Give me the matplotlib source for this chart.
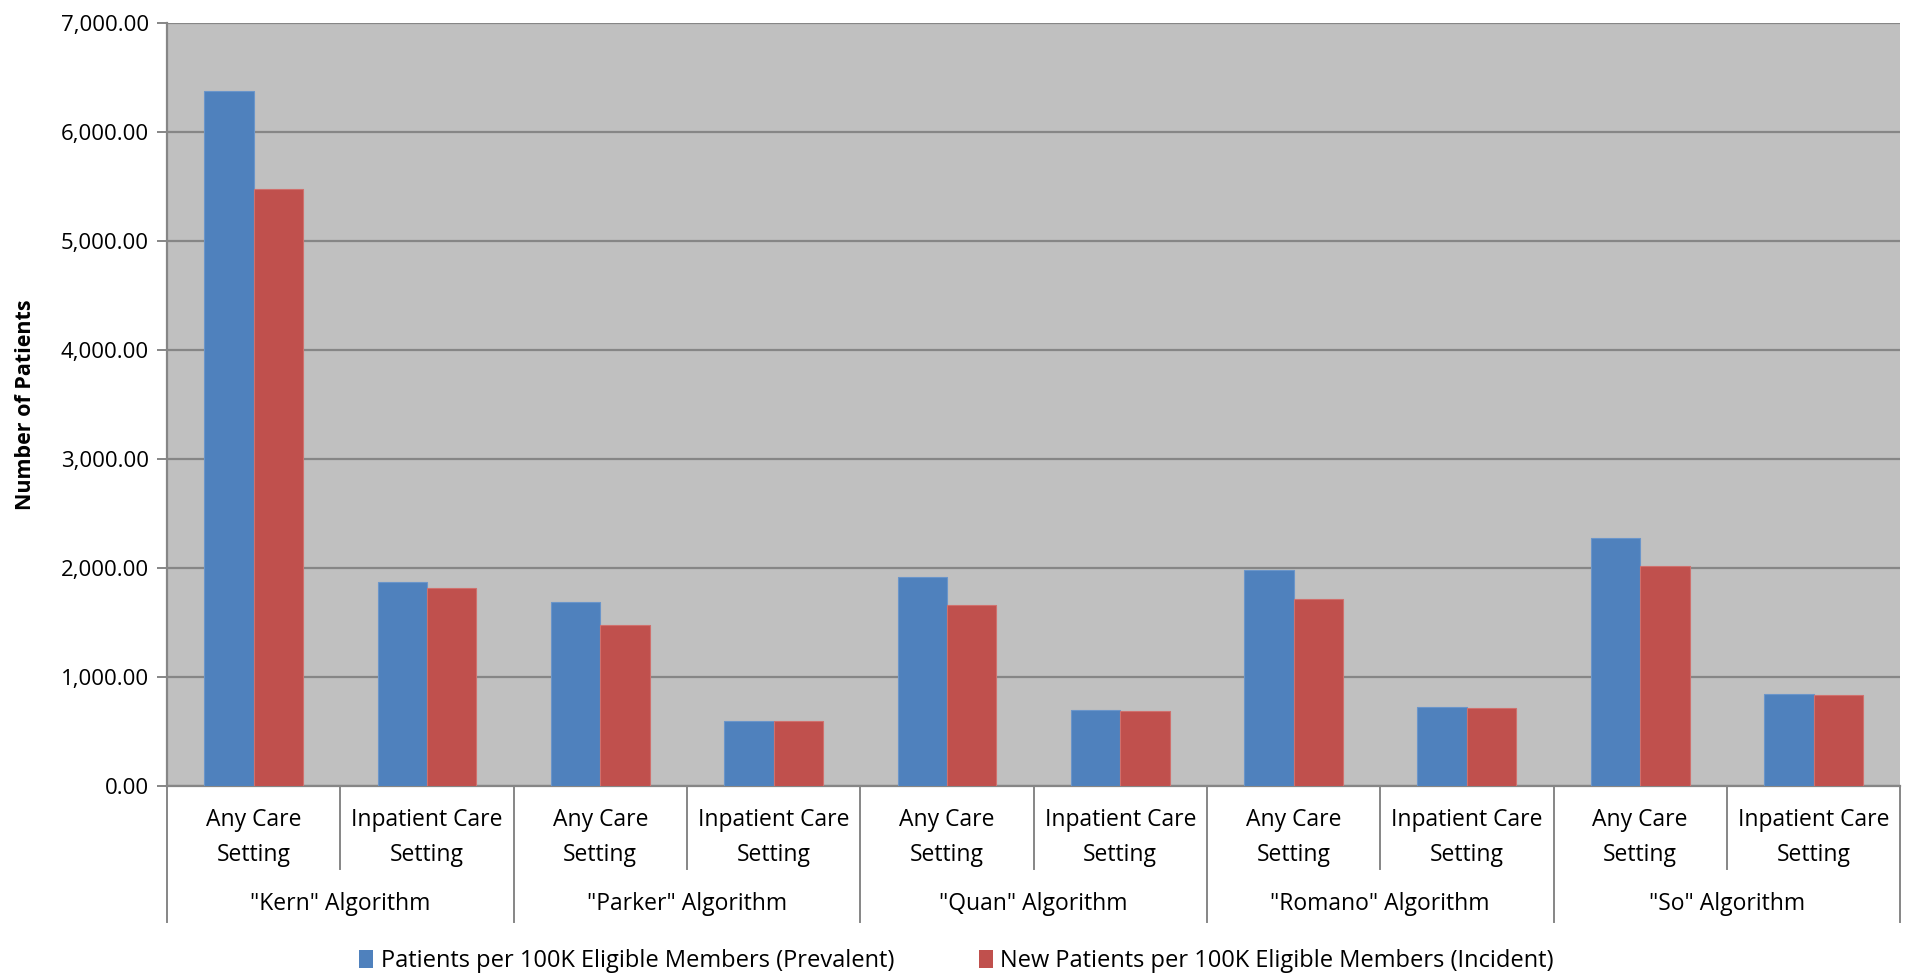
import matplotlib.pyplot as plt
import numpy as np
from matplotlib.ticker import FuncFormatter
from matplotlib.patches import Patch

algorithms = ['"Kern" Algorithm', '"Parker" Algorithm', '"Quan" Algorithm',
              '"Romano" Algorithm', '"So" Algorithm']
settings = ['Any Care\nSetting', 'Inpatient Care\nSetting']
prevalent = [6383, 1877, 1692, 601, 1917, 699, 1979, 722, 2279, 841]
incident = [5478, 1817, 1474, 601, 1666, 693, 1719, 719, 2018, 832]
series_names = ['Patients per 100K Eligible Members (Prevalent)',
                'New Patients per 100K Eligible Members (Incident)']

plt.rcParams['font.family'] = ['Open Sans', 'DejaVu Sans']

blue = '#4F81BD'
red = '#C0504D'
axis_gray = '#868686'

fig = plt.figure(figsize=(19.13, 9.74), dpi=100)
ax = fig.add_axes([0.0873, 0.193, 0.906, 0.783])
ax.set_facecolor('#C0C0C0')

x = np.arange(len(prevalent))
w = 0.285
ax.bar(x - w / 2, prevalent, w, color=blue, edgecolor='#6A95CA', linewidth=0.8, zorder=3)
ax.bar(x + w / 2, incident, w, color=red, edgecolor='#D0706D', linewidth=0.8, zorder=3)

ax.set_xlim(-0.5, len(x) - 0.5)
ax.set_ylim(0, 7000)
ax.set_yticks(np.arange(0, 7001, 1000))
ax.yaxis.set_major_formatter(FuncFormatter(lambda v, p: f'{v:,.2f}'))
ax.grid(axis='y', color=axis_gray, linewidth=1.6, zorder=1)
ax.tick_params(axis='y', length=7, width=1.4, color=axis_gray, labelsize=16, pad=6)
ax.set_xticks([])

for s in ['top', 'right']:
    ax.spines[s].set_visible(False)
for s in ['left', 'bottom']:
    ax.spines[s].set_color(axis_gray)
    ax.spines[s].set_linewidth(1.6)

ax.set_ylabel('Number of Patients', fontsize=15.5, fontweight='bold', labelpad=18)

# category labels and separators below the axis
trans = ax.get_xaxis_transform()
for i in range(len(x)):
    ax.text(i, -0.067, settings[i % 2], transform=trans, ha='center', va='center',
            fontsize=16.5, linespacing=1.6)
for k in range(len(x) + 1):
    bottom = -0.178 if k % 2 == 0 else -0.109
    ax.plot([k - 0.5, k - 0.5], [0, bottom], transform=trans, color=axis_gray,
            linewidth=1.4, clip_on=False)
for g, name in enumerate(algorithms):
    ax.text(2 * g + 0.5, -0.155, name, transform=trans, ha='center', va='center', fontsize=16.5)

handles = [Patch(facecolor=blue), Patch(facecolor=red)]
fig.legend(handles, series_names, loc='center', bbox_to_anchor=(0.5, 0.013),
           ncol=2, frameon=False, fontsize=17, handlelength=0.6, handleheight=0.8,
           handletextpad=0.3, columnspacing=3.6)

fig.savefig('out.png', dpi=100)
